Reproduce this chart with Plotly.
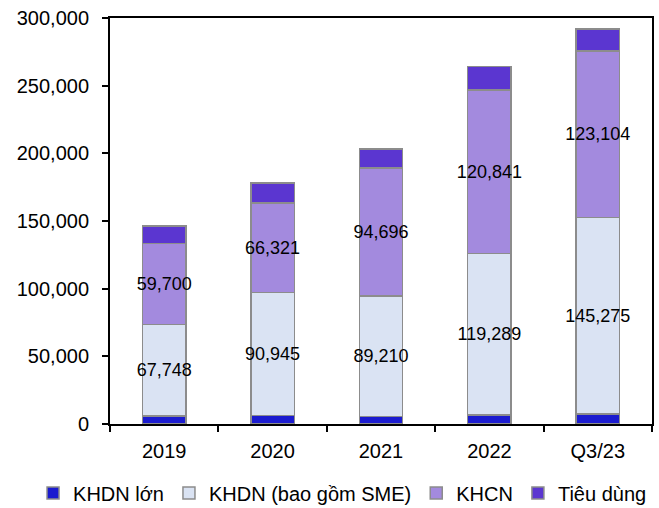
import plotly.graph_objects as go

# Loan book by customer segment (billion VND)
categories = ["2019", "2020", "2021", "2022", "Q3/23"]
khdn_lon = [5800, 6100, 5400, 6600, 7400]
khdn_sme = [67748, 90945, 89210, 119289, 145275]
khcn = [59700, 66321, 94696, 120841, 123104]
tieu_dung = [13100, 14900, 13900, 17400, 16100]

series = [
    ("KHDN lớn", khdn_lon, "#1B1BCF", False),
    ("KHDN (bao gồm SME)", khdn_sme, "#DAE3F3", True),
    ("KHCN", khcn, "#A38ADE", True),
    ("Tiêu dùng", tieu_dung, "#5B36D0", False),
]

FONT = "Liberation Sans, Arial, sans-serif"

fig = go.Figure()
for name, values, color, labelled in series:
    fig.add_trace(go.Bar(
        name=name,
        x=categories,
        y=values,
        width=0.4,
        marker=dict(color=color, line=dict(color="#8C8C8C", width=1.5)),
        texttemplate="%{y:,}" if labelled else None,
        textposition="inside" if labelled else "none",
        insidetextanchor="middle",
        textangle=0,
        constraintext="none",
        textfont=dict(family=FONT, size=18, color="#000000"),
        hoverinfo="skip",
    ))

fig.update_layout(
    barmode="stack",
    width=659,
    height=508,
    margin=dict(l=110, r=7, t=18, b=84, autoexpand=False),
    paper_bgcolor="#FFFFFF",
    plot_bgcolor="#FFFFFF",
    font=dict(family=FONT, size=20, color="#000000"),
    legend=dict(
        orientation="h",
        x=-0.142, xanchor="left",
        y=-0.17, yanchor="middle",
        font=dict(family=FONT, size=20, color="#000000"),
        itemwidth=30,
        traceorder="normal",
        tracegroupgap=0,
    ),
    xaxis=dict(
        range=[-0.5, 4.5],
        showline=True, linecolor="#000000", linewidth=2,
        mirror=True,
        ticks="outside", tickson="boundaries", ticklen=6, tickwidth=2, tickcolor="#000000",
        showgrid=False,
        ticklabelstandoff=8,
        tickfont=dict(family=FONT, size=20),
    ),
    yaxis=dict(
        range=[0, 300000],
        dtick=50000,
        tickformat=",",
        showline=True, linecolor="#000000", linewidth=2,
        mirror=True,
        ticks="outside", ticklen=6, tickwidth=2, tickcolor="#000000",
        showgrid=False, zeroline=False,
        ticklabelstandoff=9,
        tickfont=dict(family=FONT, size=20),
    ),
)

fig.write_html("out.html")
